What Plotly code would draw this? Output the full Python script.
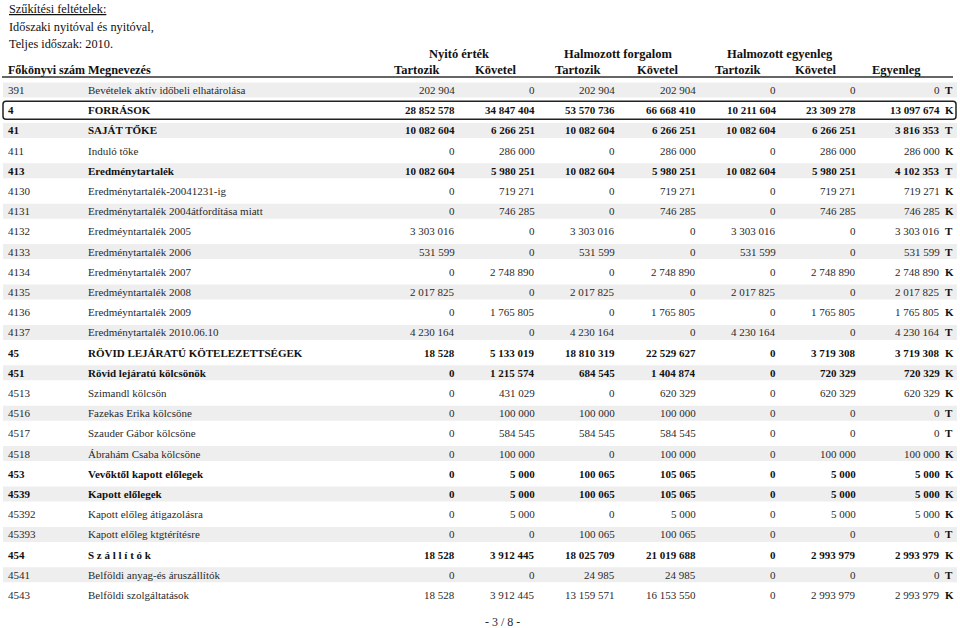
import plotly.graph_objects as go

# -------------------------------
# Data
# -------------------------------

codes = ["391", "4", "41", "411", "413", "4130", "4131", "4132", "4133", "4134",
         "4135", "4136", "4137", "45", "451", "4513", "4516", "4517", "4518",
         "453", "4539", "45392", "45393", "454", "4541", "4543"]

names = ["Bevételek aktív időbeli elhatárolása", "FORRÁSOK", "SAJÁT TŐKE",
         "Induló tőke", "Eredménytartalék", "Eredménytartalék-20041231-ig",
         "Eredménytartalék 2004átfordítása miatt", "Eredméyntartalék 2005",
         "Eredménytartalék 2006", "Eredménytartalék 2007", "Eredméyntartalék 2008",
         "Eredméyntartalék 2009", "Eredménytartalék 2010.06.10",
         "RÖVID LEJÁRATÚ KÖTELEZETTSÉGEK", "Rövid lejáratú kölcsönök",
         "Szimandl kölcsön", "Fazekas Erika kölcsöne", "Szauder Gábor kölcsöne",
         "Ábrahám Csaba kölcsöne", "Vevőktől kapott előlegek", "Kapott előlegek",
         "Kapott előleg átigazolásra", "Kapott előleg ktgtérítésre",
         "S z á l l í t ó k", "Belföldi anyag-és áruszállítók",
         "Belföldi szolgáltatások"]

bold_codes = {"4", "41", "413", "45", "451", "453", "4539", "454"}

nyito_tartozik = [202904, 28852578, 10082604, 0, 10082604, 0, 0, 3303016, 531599, 0,
                  2017825, 0, 4230164, 18528, 0, 0, 0, 0, 0, 0, 0, 0, 0, 18528, 0, 18528]
nyito_kovetel = [0, 34847404, 6266251, 286000, 5980251, 719271, 746285, 0, 0, 2748890,
                 0, 1765805, 0, 5133019, 1215574, 431029, 100000, 584545, 100000,
                 5000, 5000, 5000, 0, 3912445, 0, 3912445]
forg_tartozik = [202904, 53570736, 10082604, 0, 10082604, 0, 0, 3303016, 531599, 0,
                 2017825, 0, 4230164, 18810319, 684545, 0, 100000, 584545, 0,
                 100065, 100065, 0, 100065, 18025709, 24985, 13159571]
forg_kovetel = [202904, 66668410, 6266251, 286000, 5980251, 719271, 746285, 0, 0, 2748890,
                0, 1765805, 0, 22529627, 1404874, 620329, 100000, 584545, 100000,
                105065, 105065, 5000, 100065, 21019688, 24985, 16153550]
egy_tartozik = [0, 10211604, 10082604, 0, 10082604, 0, 0, 3303016, 531599, 0,
                2017825, 0, 4230164, 0, 0, 0, 0, 0, 0, 0, 0, 0, 0, 0, 0, 0]
egy_kovetel = [0, 23309278, 6266251, 286000, 5980251, 719271, 746285, 0, 0, 2748890,
               0, 1765805, 0, 3719308, 720329, 620329, 0, 0, 100000,
               5000, 5000, 5000, 0, 2993979, 0, 2993979]
egyenleg = [0, 13097674, 3816353, 286000, 4102353, 719271, 746285, 3303016, 531599,
            2748890, 2017825, 1765805, 4230164, 3719308, 720329, 620329, 0, 0, 100000,
            5000, 5000, 5000, 0, 2993979, 0, 2993979]
egyenleg_jel = ["T", "K", "T", "K", "T", "K", "K", "T", "T", "K", "T", "K", "T",
                "K", "K", "K", "T", "T", "K", "K", "K", "K", "T", "K", "T", "K"]

filter_lines = ["Időszaki nyitóval és nyitóval,", "Teljes időszak: 2010."]
group_headers = ["Nyitó érték", "Halmozott forgalom", "Halmozott egyenleg"]
sub_headers = ["Tartozik", "Követel"] * 3

# -------------------------------
# Layout constants
# -------------------------------

FONT = "Liberation Serif"
Y0, STEP = 90, 20.2
num_cols = [nyito_tartozik, nyito_kovetel, forg_tartozik, forg_kovetel,
            egy_tartozik, egy_kovetel]
num_right = [457, 537, 617, 698, 778, 858]
head_right = [441, 518, 602, 680, 762, 838]
group_center = [459, 618, 780]


def fmt(v):
    return f"{v:,}".replace(",", " ")


def txt(x, y, s, anchor="left", size=11, color="#2a2a2a"):
    return dict(x=x, y=y, xref="x", yref="y", text=s, showarrow=False,
                xanchor=anchor, yanchor="middle",
                font=dict(family=FONT, size=size, color=color))


annotations = []
shapes = []

# title block
annotations.append(txt(7, 9, "<u>Szűkítési feltételek:</u>", size=12.3, color="#111"))
for i, line in enumerate(filter_lines):
    annotations.append(txt(7, 27 + i * 17, line, size=12.3, color="#111"))

# headers
annotations.append(txt(6, 70, "<b>Főkönyvi szám</b>", size=12, color="#111"))
annotations.append(txt(86, 70, "<b>Megnevezés</b>", size=12.3, color="#111"))
for i, g in enumerate(group_headers):
    annotations.append(txt(group_center[i], 54, f"<b>{g}</b>", anchor="center",
                           size=12.5, color="#111"))
for i, h in enumerate(sub_headers):
    annotations.append(txt(head_right[i], 70, f"<b>{h}</b>", anchor="right",
                           size=12.5, color="#111"))
annotations.append(txt(923, 70, "<b>Egyenleg</b>", anchor="right", size=12.5, color="#111"))

shapes.append(dict(type="line", xref="x", yref="y", x0=2, x1=953, y0=77, y1=77,
                   line=dict(color="#333", width=1.5)))

# rows
for r, code in enumerate(codes):
    y = Y0 + r * STEP
    b = code in bold_codes
    wrap = (lambda s: f"<b>{s}</b>") if b else (lambda s: s)
    col = "#111" if b else "#2a2a2a"
    if r % 2 == 0:
        shapes.append(dict(type="rect", xref="x", yref="y", x0=3, x1=957,
                           y0=y - 7.5, y1=y + 7.5, fillcolor="#eeeeee",
                           line=dict(width=0), layer="below"))
    annotations.append(txt(6, y, wrap(code), color=col))
    annotations.append(txt(86, y, wrap(names[r]), color=col))
    for c, vals in enumerate(num_cols):
        annotations.append(txt(num_right[c], y, wrap(fmt(vals[r])), anchor="right", color=col))
    annotations.append(txt(942, y, wrap(fmt(egyenleg[r])), anchor="right", color=col))
    annotations.append(txt(943, y, f"<b>{egyenleg_jel[r]}</b>", color="#111"))

# rounded box around the FORRÁSOK row
yb = Y0 + STEP
x0, x1, y0, y1, rr = 3, 956, yb - 9, yb + 9, 3
path = (f"M {x0 + rr},{y0} L {x1 - rr},{y0} Q {x1},{y0} {x1},{y0 + rr} "
        f"L {x1},{y1 - rr} Q {x1},{y1} {x1 - rr},{y1} L {x0 + rr},{y1} "
        f"Q {x0},{y1} {x0},{y1 - rr} L {x0},{y0 + rr} Q {x0},{y0} {x0 + rr},{y0} Z")
shapes.append(dict(type="path", xref="x", yref="y", path=path,
                   line=dict(color="#222", width=1.5)))

# page footer
annotations.append(txt(502, 622, "- 3 / 8 -", anchor="center", size=12))

# -------------------------------
# Figure
# -------------------------------

fig = go.Figure()
fig.update_layout(
    width=960,
    height=628,
    margin=dict(l=0, r=0, t=0, b=0),
    paper_bgcolor="white",
    plot_bgcolor="white",
    xaxis=dict(range=[0, 960], visible=False, fixedrange=True),
    yaxis=dict(range=[628, 0], visible=False, fixedrange=True),
    annotations=annotations,
    shapes=shapes,
    showlegend=False,
)

# drop the default body margin so the page is drawn edge to edge
fig.write_html("out.html", config={"displayModeBar": False},
               post_script="document.body.style.margin = '0';")
